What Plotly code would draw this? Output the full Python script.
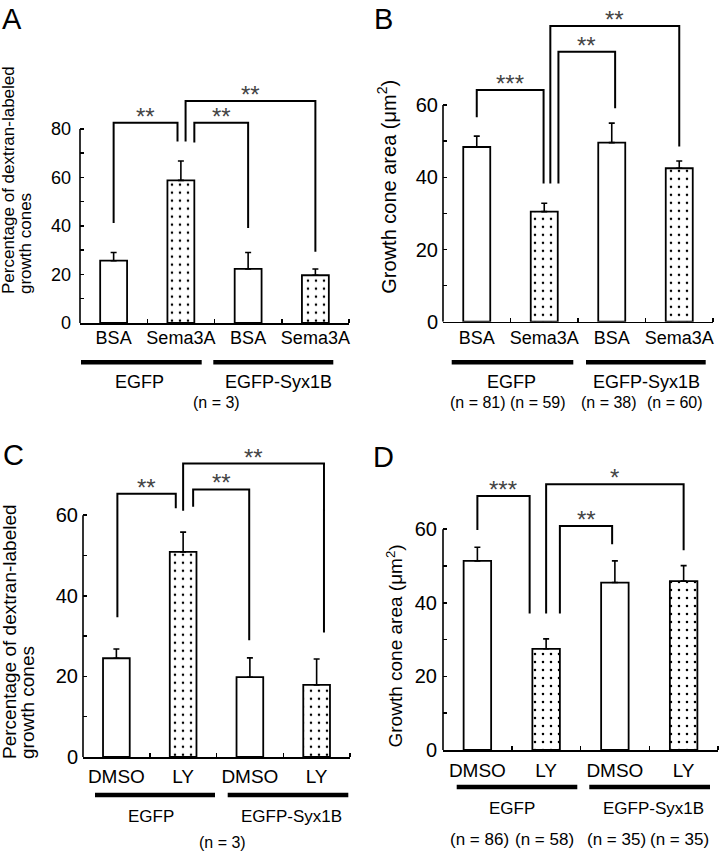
import plotly.graph_objects as go

W, H = 721, 853
FONT = "Liberation Sans, Arial, Helvetica, sans-serif"

# ---------------- data ----------------
a_cats = ["BSA", "Sema3A", "BSA", "Sema3A"]
a_mean = [25.7, 58.8, 22.3, 19.7]
a_sem = [3.4, 8.0, 6.8, 2.6]
a_yticks = [0, 20, 40, 60, 80]
a_groups = ["EGFP", "EGFP-Syx1B"]
a_n = ["(n = 3)"]

b_cats = ["BSA", "Sema3A", "BSA", "Sema3A"]
b_mean = [48.4, 30.5, 49.6, 42.5]
b_sem = [3.0, 2.3, 5.4, 2.0]
b_yticks = [0, 20, 40, 60]
b_groups = ["EGFP", "EGFP-Syx1B"]
b_n = ["(n = 81)", "(n = 59)", "(n = 38)", "(n = 60)"]

c_cats = ["DMSO", "LY", "DMSO", "LY"]
c_mean = [24.5, 50.9, 19.8, 17.9]
c_sem = [2.3, 4.9, 4.8, 6.4]
c_yticks = [0, 20, 40, 60]
c_groups = ["EGFP", "EGFP-Syx1B"]
c_n = ["(n = 3)"]

d_cats = ["DMSO", "LY", "DMSO", "LY"]
d_mean = [51.4, 27.5, 45.5, 45.9]
d_sem = [3.7, 2.7, 5.9, 4.2]
d_yticks = [0, 20, 40, 60]
d_groups = ["EGFP", "EGFP-Syx1B"]
d_n = ["(n = 86)", "(n = 58)", "(n = 35)", "(n = 35)"]

treated = [False, True, False, True]  # dotted bars

# significance brackets: (left pos, right pos, top, left leg end, right leg end, label)
a_sig = [(0.0, 0.95, 82.6, 41.2, 74.8, "**"),
         (1.2, 2.0, 82.6, 74.4, 39.2, "**"),
         (1.07, 3.0, 91.5, 74.8, 29.4, "**")]
b_sig = [(0.0, 0.99, 64.2, 56.6, 38.3, "***"),
         (1.21, 2.05, 74.8, 38.3, 59.1, "**"),
         (1.09, 3.0, 81.9, 38.3, 48.5, "**")]
c_sig = [(0.015, 0.89, 65.3, 34.7, 61.7, "**"),
         (1.15, 1.99, 66.4, 62.1, 29.0, "**"),
         (1.0, 3.11, 72.8, 61.1, 30.9, "**")]
d_sig = [(0.0, 0.76, 69.0, 59.8, 37.1, "***"),
         (1.2, 1.96, 60.9, 37.1, 55.9, "**"),
         (1.0, 3.0, 72.2, 37.1, 54.3, "*")]

# ---------------- layout config (pixels) ----------------
panels = [
    dict(letter="A", letter_xy=(12, 19), cats=a_cats, mean=a_mean, sem=a_sem, yticks=a_yticks,
         sig=a_sig, groups=a_groups, n=a_n,
         xpx=(80, 349), zero=323, ppu=2.425, ymax=95,
         tickfs=18, numfs=18, titlefs=17, groupfs=18, nfs=16, standoff=-2, ystandoff=8,
         title=[("Percentage of dextran-labeled", 9), ("growth cones", 25.5)], title_bottom=296,
         lines=[(81, 201.7, 362.3), (213.3, 333.3, 362.3)],
         group_xy=[(139.5, 381.7), (278, 381.7)], n_xy=[(216.7, 402.7)]),
    dict(letter="B", letter_xy=(383, 19), cats=b_cats, mean=b_mean, sem=b_sem, yticks=b_yticks,
         sig=b_sig, groups=b_groups, n=b_n,
         xpx=(443, 713), zero=321.7, ppu=3.61, ymax=85,
         tickfs=18, numfs=20, titlefs=20, groupfs=18, nfs=16, standoff=-1, ystandoff=4,
         title=[("Growth cone area (\u03bcm<sup>2</sup>)", 387)], title_center=186.7,
         lines=[(451.7, 573.3, 362.3), (586, 705.7, 362.3)],
         group_xy=[(511.7, 381.7), (646.7, 381.7)],
         n_xy=[(477.8, 402.7), (537.5, 402.7), (609.2, 402.7), (674.7, 402.7)]),
    dict(letter="C", letter_xy=(13.5, 455), cats=c_cats, mean=c_mean, sem=c_sem, yticks=c_yticks,
         sig=c_sig, groups=c_groups, n=c_n,
         xpx=(83, 350), zero=757, ppu=4.03, ymax=75,
         tickfs=19, numfs=20, titlefs=19, groupfs=17, nfs=16, standoff=2, ystandoff=4,
         title=[("Percentage of dextran-labeled", 9.5), ("growth cones", 27.5)], title_bottom=761,
         lines=[(95, 215, 795), (227.7, 348.3, 795)],
         group_xy=[(150.5, 816), (291.2, 816)], n_xy=[(222.5, 842.5)]),
    dict(letter="D", letter_xy=(383, 457), cats=d_cats, mean=d_mean, sem=d_sem, yticks=d_yticks,
         sig=d_sig, groups=d_groups, n=d_n,
         xpx=(443, 718), zero=750, ppu=3.68, ymax=75,
         tickfs=19, numfs=20, titlefs=19, groupfs=17, nfs=17, standoff=3, ystandoff=5,
         title=[("Growth cone area (\u03bcm<sup>2</sup>)", 394)], title_center=646.5,
         lines=[(456.7, 577.3, 787), (589.3, 710, 787)],
         group_xy=[(512.2, 808.3), (653.3, 808.3)],
         n_xy=[(479.3, 839.3), (544.2, 839.3), (616.7, 839.3), (679.7, 839.3)]),
]


def px_x(v):
    return v / W


def px_y(v):
    return 1 - v / H


fig = go.Figure()
shapes = []
annots = []

for i, p in enumerate(panels):
    k = "" if i == 0 else str(i + 1)
    xid, yid = "x" + k, "y" + k
    pos = list(range(len(p["cats"])))

    fig.add_trace(go.Bar(
        x=pos, y=p["mean"], width=0.4, xaxis=xid, yaxis=yid, showlegend=False,
        marker=dict(color="white", line=dict(color="black", width=1.8),
                    pattern=dict(shape=["." if t else "" for t in treated],
                                 fgcolor="black", bgcolor="white", fgopacity=1,
                                 size=8, solidity=0.08)),
        error_y=dict(type="data", array=p["sem"], arrayminus=[0] * len(pos), symmetric=False,
                     color="black", thickness=1.6, width=3),
    ))

    top_px = p["zero"] - p["ymax"] * p["ppu"]
    yt = p["yticks"]
    minor_y = [v + 10 for v in yt[:-1]]

    fig.layout["xaxis" + k] = dict(
        domain=[px_x(p["xpx"][0]), px_x(p["xpx"][1])], anchor=yid, range=[-0.5, 3.5],
        showline=True, linecolor="black", linewidth=1.6, showgrid=False, zeroline=False,
        tickmode="array", tickvals=pos, ticktext=p["cats"], ticks="",
        minor=dict(tickmode="array", tickvals=[v + 0.5 for v in pos], ticks="inside",
                   ticklen=4, tickwidth=1.5, tickcolor="black", showgrid=False),
        tickfont=dict(family=FONT, size=p["tickfs"], color="black"),
        ticklabelstandoff=p["standoff"], fixedrange=True, automargin=False,
    )
    fig.layout["yaxis" + k] = dict(
        domain=[px_y(p["zero"]), px_y(top_px)], anchor=xid, range=[0, p["ymax"]],
        showline=False, showgrid=False, zeroline=False,
        tickmode="array", tickvals=yt, ticks="inside", ticklen=4, tickwidth=1.5, tickcolor="black",
        minor=dict(tickmode="array", tickvals=minor_y, ticks="inside", ticklen=4, tickwidth=1.5,
                   tickcolor="black", showgrid=False),
        tickfont=dict(family=FONT, size=p["numfs"], color="black"),
        ticklabelstandoff=p["ystandoff"], fixedrange=True, automargin=False,
    )

    # y axis line up to the top tick only
    shapes.append(dict(type="line", xref=xid + " domain", yref=yid, x0=0, x1=0, y0=0, y1=yt[-1],
                       line=dict(color="black", width=1.6)))

    # significance brackets
    for (x0, x1, t, l0, l1, lab) in p["sig"]:
        shapes.append(dict(type="path", xref=xid, yref=yid,
                           path=f"M{x0},{l0} L{x0},{t} L{x1},{t} L{x1},{l1}",
                           line=dict(color="black", width=2)))
        annots.append(dict(x=(x0 + x1) / 2, y=t, xref=xid, yref=yid, text=lab, showarrow=False,
                           xanchor="center", yanchor="bottom", yshift=-9,
                           font=dict(family=FONT, size=24, color="#444444")))

    # group underlines
    for (a, b, yy) in p["lines"]:
        shapes.append(dict(type="line", xref="paper", yref="paper", x0=px_x(a), x1=px_x(b),
                           y0=px_y(yy), y1=px_y(yy), line=dict(color="black", width=4.5)))
    for txt, (gx, gy) in zip(p["groups"], p["group_xy"]):
        annots.append(dict(x=px_x(gx), y=px_y(gy), xref="paper", yref="paper", text=txt,
                           showarrow=False, xanchor="center", yanchor="middle",
                           font=dict(family=FONT, size=p["groupfs"], color="black")))
    for txt, (nx, ny) in zip(p["n"], p["n_xy"]):
        annots.append(dict(x=px_x(nx), y=px_y(ny), xref="paper", yref="paper", text=txt,
                           showarrow=False, xanchor="center", yanchor="middle",
                           font=dict(family=FONT, size=p["nfs"], color="black")))

    # y titles
    if "title_bottom" in p:
        for txt, tx in p["title"]:
            annots.append(dict(x=px_x(tx), y=px_y(p["title_bottom"]), xref="paper", yref="paper",
                               text=txt, textangle=-90, showarrow=False, xanchor="center",
                               yanchor="bottom",
                               font=dict(family=FONT, size=p["titlefs"], color="black")))
    else:
        txt, tx = p["title"][0]
        annots.append(dict(x=px_x(tx), y=px_y(p["title_center"]), xref="paper", yref="paper",
                           text=txt, textangle=-90, showarrow=False, xanchor="center",
                           yanchor="middle",
                           font=dict(family=FONT, size=p["titlefs"], color="black")))

    # panel letter
    lx, ly = p["letter_xy"]
    annots.append(dict(x=px_x(lx), y=px_y(ly), xref="paper", yref="paper", text=p["letter"],
                       showarrow=False, xanchor="center", yanchor="middle",
                       font=dict(family=FONT, size=29, color="black")))

fig.update_layout(
    width=W, height=H, margin=dict(l=0, r=0, t=0, b=0, autoexpand=False),
    paper_bgcolor="white", plot_bgcolor="white",
    shapes=shapes, annotations=annots, bargap=0.6, showlegend=False,
)

fig.write_html("out.html", config={"displayModeBar": False, "staticPlot": True},
               post_script="document.body.style.margin='0';document.body.style.padding='0';")
